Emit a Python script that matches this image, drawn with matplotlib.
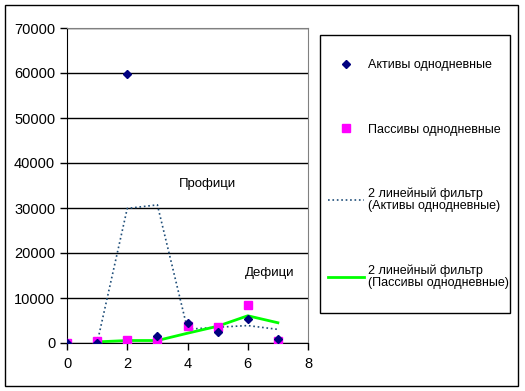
import numpy as np
import pandas as pd
import matplotlib
matplotlib.use("Agg")
import matplotlib.pyplot as plt
from matplotlib.patches import Rectangle

plt.rcParams['font.family'] = ['Liberation Sans', 'DejaVu Sans']

# данные
days = [0, 1, 2, 3, 4, 5, 6, 7]
aktivy = [0, 0, 59800, 1600, 4500, 2500, 5250, 800]
passivy = [0, 500, 600, 500, 3850, 3600, 8500, 500]

lbl_a = "Активы однодневные"
lbl_p = "Пассивы однодневные"
lbl_fa = "2 линейный фильтр\n(Активы однодневные)"
lbl_fp = "2 линейный фильтр\n(Пассивы однодневные)"

# скользящее среднее с периодом 2 (линия тренда)
filt_a = pd.Series(aktivy).rolling(2).mean()
filt_p = pd.Series(passivy).rolling(2).mean()

fig = plt.figure(figsize=(5.25, 3.91), dpi=100)
ax = fig.add_axes([67/525, 1-343/391, 241/525, 315/391])

ax.plot(days, aktivy, 'D', color='#000080', ms=4, label=lbl_a, zorder=4)
ax.plot(days, passivy, 's', color='#FF00FF', ms=6, label=lbl_p, zorder=3)
ax.plot(days, filt_a, ':', color='#1F4E79', lw=1.2, label=lbl_fa, zorder=2)
ax.plot(days, filt_p, '-', color='#00FF00', lw=2, label=lbl_fp, zorder=2)

ax.set_xlim(0, 8)
ax.set_ylim(0, 70000)
ax.set_xticks([0, 2, 4, 6, 8])
ax.set_yticks(np.arange(0, 70001, 10000))
ax.yaxis.grid(True, color='black', lw=1)
ax.set_axisbelow(True)
ax.tick_params(direction='out', length=5, width=1, labelsize=10.5, colors='black')
ax.tick_params(axis='x', pad=5)
for s in ['top', 'right']:
    ax.spines[s].set_color('#808080')
for s in ['left', 'bottom']:
    ax.spines[s].set_color('black')

ax.text(4.66, 35300, "Профици", fontsize=9.5, ha='center', va='center')
ax.text(6.74, 15550, "Дефици", fontsize=9.5, ha='center', va='center')

# рамка легенды
fig.patches.append(Rectangle((320/525, 1-313/391), 190/525, 278/391,
                             transform=fig.transFigure, fill=False,
                             edgecolor='black', lw=1))
leg = fig.legend(loc='upper left', bbox_to_anchor=(328/525, 1-59/391),
                 fontsize=9, frameon=False, labelspacing=4.2,
                 borderpad=0, handlelength=2.9, handletextpad=0.3,
                 borderaxespad=0)
for t in leg.get_texts():
    t.set_linespacing(0.95)

# рамка рисунка
fig.patches.append(Rectangle((5/525, 1-386/391), 513/525, 381/391,
                             transform=fig.transFigure, fill=False,
                             edgecolor='black', lw=1))

fig.savefig("out.png", dpi=100)
